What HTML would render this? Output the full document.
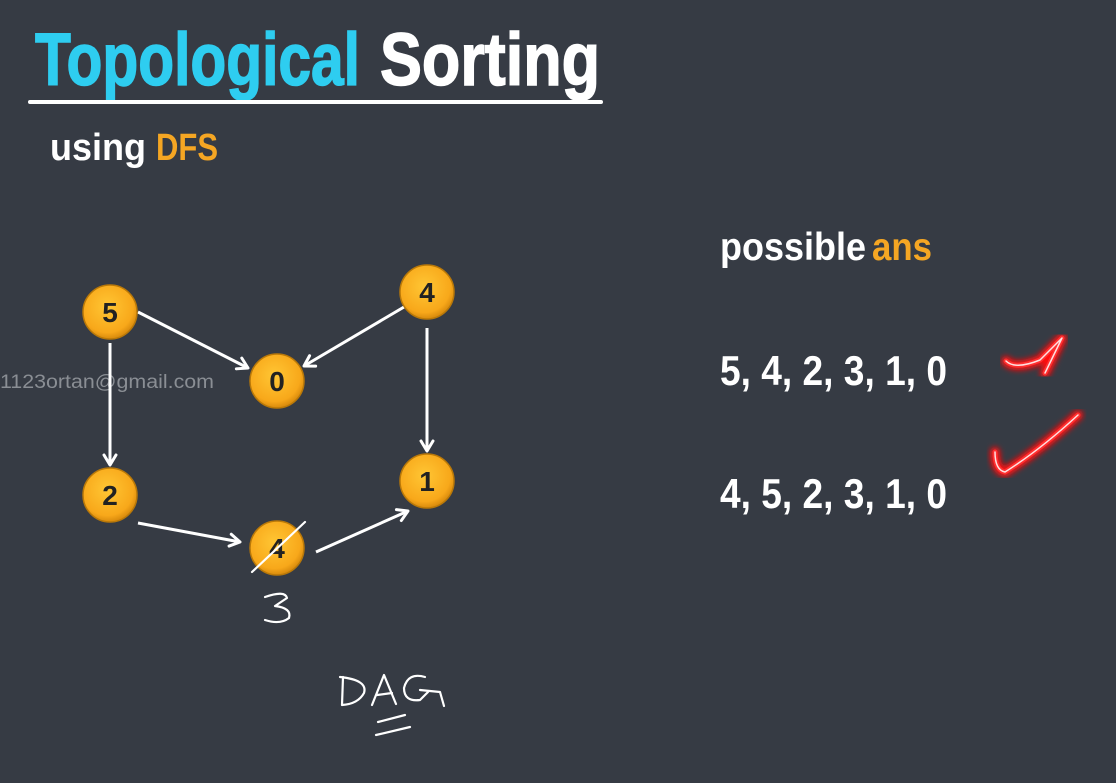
<!DOCTYPE html>
<html><head><meta charset="utf-8"><style>
html,body{margin:0;padding:0;background:#363b44;}
svg{display:block}
text{font-family:"Liberation Sans Narrow","Liberation Sans",sans-serif;font-weight:bold;}
</style></head><body>
<svg width="1116" height="783" viewBox="0 0 1116 783" xmlns="http://www.w3.org/2000/svg">
<defs>
<radialGradient id="g" cx="45%" cy="40%" r="60%">
<stop offset="0" stop-color="#ffc634"/><stop offset="0.8" stop-color="#f8a81a"/><stop offset="1" stop-color="#d88a0c"/>
</radialGradient>
<marker id="a" markerWidth="16" markerHeight="16" refX="12" refY="8" orient="auto" markerUnits="userSpaceOnUse">
<path d="M2,2 L12,8 L2,14" fill="none" stroke="#fff" stroke-width="3" stroke-linejoin="round" stroke-linecap="round"/>
</marker>
<filter id="glow"><feGaussianBlur stdDeviation="3"/></filter>
</defs>
<rect width="1116" height="783" fill="#363b44"/>
<text x="35" y="85" font-size="74" fill="#2ecdf0" stroke="#2ecdf0" stroke-width="1.5" textLength="325" lengthAdjust="spacingAndGlyphs">Topological</text>
<text x="380" y="85" font-size="74" fill="#ffffff" stroke="#fff" stroke-width="1.5" textLength="220" lengthAdjust="spacingAndGlyphs">Sorting</text>
<rect x="28" y="100" width="575" height="4" rx="2" fill="#fff"/>
<text x="50" y="160" font-size="38" fill="#fff" textLength="96" lengthAdjust="spacingAndGlyphs">using</text>
<text x="156" y="160" font-size="38" fill="#f5a623" textLength="62" lengthAdjust="spacingAndGlyphs">DFS</text>
<text x="720" y="260" font-size="39" fill="#fff" textLength="146" lengthAdjust="spacingAndGlyphs">possible</text>
<text x="872" y="260" font-size="39" fill="#f5a623" textLength="60" lengthAdjust="spacingAndGlyphs">ans</text>
<text x="720" y="385" font-size="42" fill="#fff" textLength="227" lengthAdjust="spacingAndGlyphs">5, 4, 2, 3, 1, 0</text>
<text x="720" y="508" font-size="42" fill="#fff" textLength="227" lengthAdjust="spacingAndGlyphs">4, 5, 2, 3, 1, 0</text>
<text x="0" y="388" font-size="19" fill="#8a8e94" style="font-family:'Liberation Sans',sans-serif;font-weight:normal" textLength="214" lengthAdjust="spacingAndGlyphs">1123ortan@gmail.com</text>
<g fill="none" stroke-linecap="round" stroke-linejoin="round">
<path d="M1006,361 Q1015,370 1040,360 L1062,338 L1045,373" stroke="#ff1010" stroke-width="10" filter="url(#glow)"/>
<path d="M1006,361 Q1015,370 1040,360 L1062,338 L1045,373" stroke="#ff3030" stroke-width="5"/>
<path d="M1006,361 Q1015,370 1040,360 L1062,338 L1045,373" stroke="#ffe0e0" stroke-width="1.5"/>
<path d="M995,452 Q995,470 1005,472 Q1040,450 1078,415" stroke="#ff1010" stroke-width="10" filter="url(#glow)"/>
<path d="M995,452 Q995,470 1005,472 Q1040,450 1078,415" stroke="#ff3030" stroke-width="5"/>
<path d="M995,452 Q995,470 1005,472 Q1040,450 1078,415" stroke="#ffe0e0" stroke-width="1.5"/>
</g>
<g stroke="#fff" stroke-width="3" fill="none" marker-end="url(#a)">
<line x1="138" y1="312" x2="248" y2="368"/>
<line x1="404" y1="307" x2="304" y2="366"/>
<line x1="110" y1="343" x2="110" y2="465"/>
<line x1="427" y1="328" x2="427" y2="451"/>
<line x1="138" y1="523" x2="240" y2="542"/>
<line x1="316" y1="552" x2="408" y2="511"/>
</g>
<g font-size="28" text-anchor="middle">
<circle cx="110" cy="312" r="27" fill="url(#g)" stroke="#b97808" stroke-width="1.5"/><text x="110" y="322" fill="#222">5</text>
<circle cx="427" cy="292" r="27" fill="url(#g)" stroke="#b97808" stroke-width="1.5"/><text x="427" y="302" fill="#222">4</text>
<circle cx="277" cy="381" r="27" fill="url(#g)" stroke="#b97808" stroke-width="1.5"/><text x="277" y="391" fill="#222">0</text>
<circle cx="110" cy="495" r="27" fill="url(#g)" stroke="#b97808" stroke-width="1.5"/><text x="110" y="505" fill="#222">2</text>
<circle cx="427" cy="481" r="27" fill="url(#g)" stroke="#b97808" stroke-width="1.5"/><text x="427" y="491" fill="#222">1</text>
<circle cx="277" cy="548" r="27" fill="url(#g)" stroke="#b97808" stroke-width="1.5"/><text x="277" y="558" fill="#222">4</text>
</g>
<g stroke="#fff" stroke-width="2.2" fill="none" stroke-linecap="round" stroke-linejoin="round">
<line x1="252" y1="572" x2="305" y2="522"/>
<path d="M265,597 Q285,590 287,598 L275,606 Q292,608 289,618 Q280,625 265,620"/>
<path d="M343,677 L342,705 M340,677 Q368,680 364,693 Q358,704 342,705"/>
<path d="M372,705 L384,675 L396,704 M377,695 L392,693"/>
<path d="M425,677 Q408,672 404,688 Q404,702 420,700 L428,692 M420,690 L440,692 L444,706"/>
<path d="M378,722 L405,715 M376,735 L410,727"/>
</g>
</svg>
</body></html>
